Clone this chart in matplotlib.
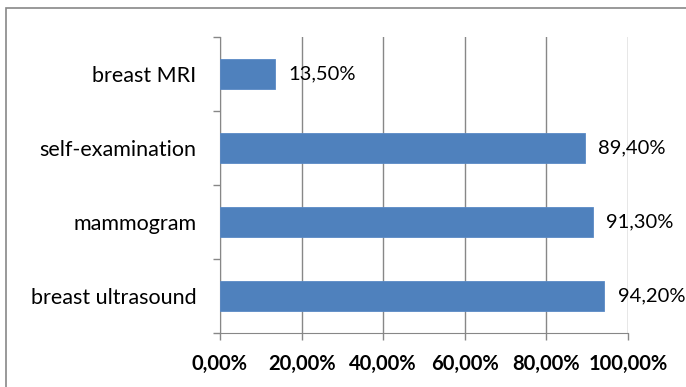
## plot.py
# screening methods - share of respondents (horizontal bars)

import matplotlib
matplotlib.use('Agg')
import matplotlib.pyplot as plt
from matplotlib.patches import Rectangle

plt.rcParams['font.family'] = ['Lato', 'DejaVu Sans']

# data (bottom -> top)
categories = ['breast ultrasound', 'mammogram', 'self-examination', 'breast MRI']
values     = [94.2, 91.3, 89.4, 13.5]
x_ticks    = [0, 20, 40, 60, 80, 100]

BAR_COLOR  = '#4F81BD'
GRID_COLOR = '#878787'


def pct(v):
	return '{:.2f}%'.format(v).replace('.', ',')


fig = plt.figure(figsize=(6.86, 3.87), dpi=100)

# outer chart border (right / bottom edge fall outside the picture)
fig.patches.append(Rectangle((6/686, -10/387), 700/686, 389/387,
	transform=fig.transFigure, fill=False, edgecolor=GRID_COLOR, linewidth=1.2))

ax = fig.add_axes([220/686, 1-333/387, 408/686, 296/387])

y_pos = range(len(categories))
ax.barh(y_pos, values, height=0.4, color=BAR_COLOR, edgecolor='#5A8AC6', linewidth=0.6, zorder=3)

for y, v in zip(y_pos, values):
	ax.annotate(pct(v), xy=(v, y), xytext=(9.5, 0), textcoords='offset points',
		va='center', ha='left', fontsize=14.5, color='black', zorder=4)

ax.set_xlim(0, 100)
ax.set_ylim(-0.5, len(categories) - 0.5)

ax.set_xticks(x_ticks)
ax.set_xticklabels([pct(t) for t in x_ticks], fontweight='bold', fontsize=14.5)
ax.set_yticks(list(y_pos))
ax.set_yticklabels(categories, fontsize=15.5)
ax.set_yticks([i - 0.5 for i in range(len(categories) + 1)], minor=True)

ax.tick_params(axis='y', which='major', length=0, pad=17)
ax.tick_params(axis='y', which='minor', length=5, color=GRID_COLOR, width=1.0, direction='out')
ax.tick_params(axis='x', length=5, color=GRID_COLOR, width=1.0, direction='out', pad=10)

ax.grid(True, axis='x', color=GRID_COLOR, linewidth=1.0, zorder=0)

for side in ['top', 'right']:
	ax.spines[side].set_visible(False)
ax.spines['left'].set_color(GRID_COLOR)
ax.spines['bottom'].set_color(GRID_COLOR)

fig.savefig('out.png', dpi=100)
